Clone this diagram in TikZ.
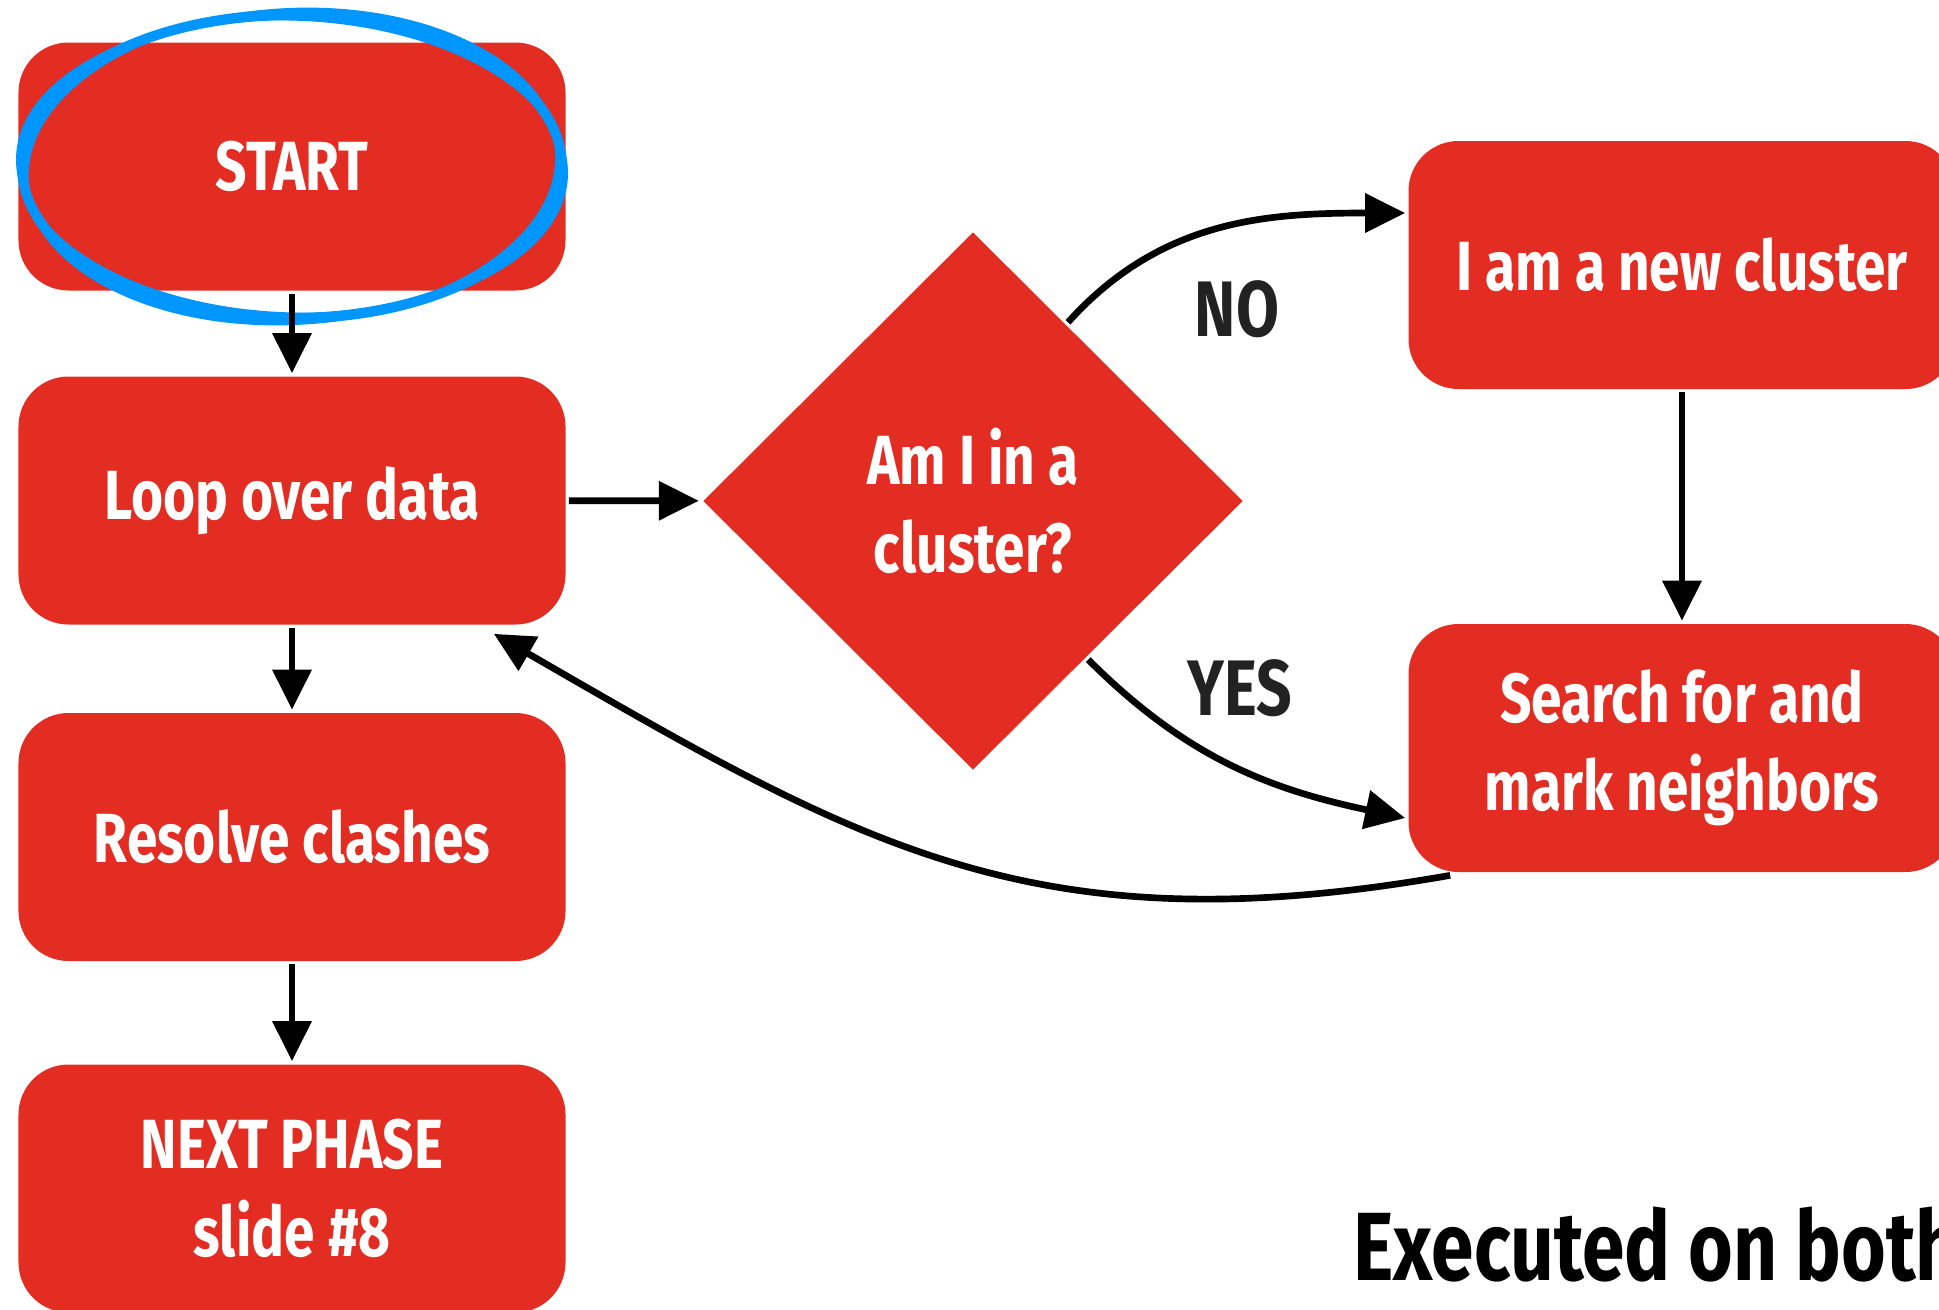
\documentclass[tikz,border=0pt]{standalone}
\usepackage{fontspec}
\setmainfont{Fira Sans}[FakeStretch=0.79]
\usetikzlibrary{shapes.geometric,arrows.meta}
\definecolor{boxred}{HTML}{E32D22}
\definecolor{penblue}{HTML}{0096FF}
\definecolor{labelgray}{HTML}{222222}
\begin{document}
\begin{tikzpicture}
[line width=1.9pt, color=black,
 arr/.style={-{Triangle[length=4mm,width=3.8mm]}},
 stepbox/.style={fill=boxred, rounded corners=0.5cm, minimum width=5.47cm,
   minimum height=2.48cm, inner sep=0pt, text=white, align=center,
   font=\bfseries\fontsize{19.8}{25}\selectfont},
 choice/.style={diamond, fill=boxred, minimum width=5.42cm, minimum height=5.4cm,
   inner sep=0pt, text=white, align=center, font=\bfseries\fontsize{19.8}{25}\selectfont},
 answer/.style={text=labelgray, font=\bfseries\fontsize{22.4}{26}\selectfont}]
\useasboundingbox (0,0) rectangle (19.39,-13.10);
\node [stepbox] (start) at (2.92,-1.665) {START};
\node [stepbox] (loop) at (2.92,-5.005) {Loop over data};
\node [stepbox] (clash) at (2.92,-8.37) {Resolve clashes};
\node [stepbox] (next) at (2.92,-11.885) {NEXT PHASE\\slide \#8};
\node [choice] (dia) at (9.73,-5.01) {Am I in a\\cluster?};
\node [stepbox] (new) at (16.82,-2.65) {I am a new cluster};
\node [stepbox] (srch) at (16.82,-7.48) {Search for and\\mark neighbors};
\node [answer] (no) at (12.37,-3.09) {NO};
\node [answer] (yes) at (12.40,-6.88) {YES};
\node [anchor=base west, inner sep=0pt, font=\bfseries\fontsize{27.6}{31}\selectfont] (exec) at (13.50,-12.80) {Executed on both};
% the hand drawn ring round START
\draw [penblue, line width=2.8pt] (start) ellipse [x radius=2.70, y radius=1.52];
\draw [penblue, line width=1.4pt, rotate around={3:(start)}] (start) ellipse [x radius=2.66, y radius=1.56];
\draw [penblue, line width=1.2pt, rotate around={-2:(start)}] (start) ellipse [x radius=2.74, y radius=1.48];
\draw [penblue, line width=2pt, xshift=0.4mm, yshift=-0.6mm] (start) ellipse [x radius=2.71, y radius=1.50];
\draw [arr] (start) -- (loop);
\draw [arr] (loop) -- (clash);
\draw [arr] (clash) -- (next);
\draw [arr] (loop) -- (dia);
\draw [arr] (dia.62) to [out=48, in=180] (new.west |- 0,-2.13);
\draw [arr] (dia.-54) to [out=-45, in=168] (new.west |- 0,-8.18);
\draw [arr] (new) -- (srch);
\draw [arr] ([xshift=4.5mm]srch.south west) to [out=190, in=-30, looseness=1.1] ([xshift=-7.5mm,yshift=-0.6mm]loop.south east);
\end{tikzpicture}
\end{document}
